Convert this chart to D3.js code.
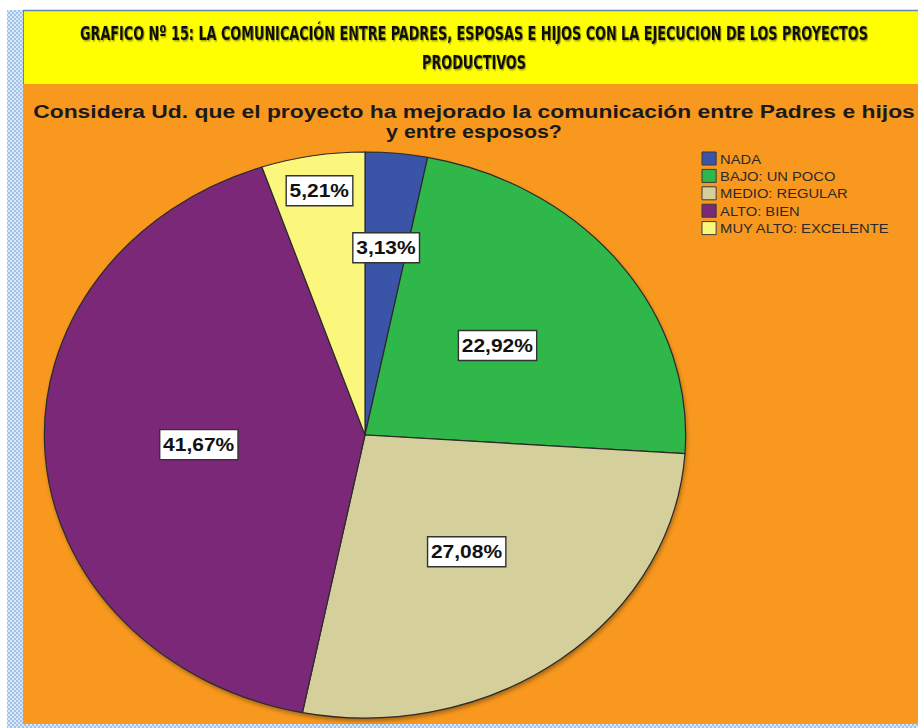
<!DOCTYPE html>
<html>
<head>
<meta charset="utf-8">
<script src="https://cdn.jsdelivr.net/npm/d3@7"></script>
<style>
    body { margin: 0; background: #ffffff; }
    svg { display: block; }
</style>
</head>
<body>
<svg width="918" height="728"></svg>
<script>
// datos del grafico
var categorias = ["NADA", "BAJO: UN POCO", "MEDIO: REGULAR", "ALTO: BIEN", "MUY ALTO: EXCELENTE"];
var porcentajes = [3.13, 22.92, 27.08, 41.67, 5.21];
var colores = ["#3a55a8", "#2fb74a", "#d4cf9b", "#7b2879", "#fbf77d"];
var tituloGrafico = ["GRAFICO Nº 15:  LA COMUNICACIÓN  ENTRE PADRES, ESPOSAS  E HIJOS CON LA EJECUCION DE LOS PROYECTOS", "PRODUCTIVOS"];
var tituloPregunta = ["Considera Ud. que el proyecto ha mejorado la comunicación entre Padres e hijos", "y entre esposos?"];

var svg = d3.select("svg");
var defs = svg.append("defs");

// la imagen original esta estirada en horizontal
var escalaX = 1.133;

// patron cuadriculado del borde
var patron = defs.append("pattern")
    .attr("id", "cuadros")
    .attr("width", 4)
    .attr("height", 4)
    .attr("patternUnits", "userSpaceOnUse");
patron.append("rect").attr("width", 4).attr("height", 4).attr("fill", "#dbe8f7");
patron.append("rect").attr("width", 2).attr("height", 2).attr("fill", "#9fc1ea");
patron.append("rect").attr("x", 2).attr("y", 2).attr("width", 2).attr("height", 2).attr("fill", "#9fc1ea");

var sombra = defs.append("filter")
    .attr("id", "sombra")
    .attr("x", "-10%").attr("y", "-10%")
    .attr("width", "120%").attr("height", "120%");
sombra.append("feGaussianBlur").attr("stdDeviation", 2);

var sombraTexto = defs.append("filter")
    .attr("id", "sombraTexto")
    .attr("x", "-5%").attr("y", "-30%")
    .attr("width", "110%").attr("height", "160%");
sombraTexto.append("feGaussianBlur").attr("in", "SourceAlpha").attr("stdDeviation", 1).attr("result", "b");
sombraTexto.append("feOffset").attr("in", "b").attr("dx", 1).attr("dy", 1).attr("result", "o");
sombraTexto.append("feFlood").attr("flood-color", "#6b6b00").attr("flood-opacity", 0.8);
sombraTexto.append("feComposite").attr("in2", "o").attr("operator", "in").attr("result", "s");
var mezcla = sombraTexto.append("feMerge");
mezcla.append("feMergeNode").attr("in", "s");
mezcla.append("feMergeNode").attr("in", "SourceGraphic");

// fondos
svg.append("rect")
    .attr("x", 7).attr("y", 10)
    .attr("width", 16).attr("height", 718)
    .attr("fill", "url(#cuadros)");
svg.append("rect")
    .attr("x", 23).attr("y", 723)
    .attr("width", 895).attr("height", 5)
    .attr("fill", "url(#cuadros)");
svg.append("rect")
    .attr("x", 23).attr("y", 84)
    .attr("width", 895).attr("height", 640)
    .attr("fill", "#f8981f");
svg.append("rect")
    .attr("x", 23).attr("y", 10)
    .attr("width", 895).attr("height", 74)
    .attr("fill", "#ffff00");
svg.append("line")
    .attr("x1", 23).attr("x2", 918)
    .attr("y1", 10.5).attr("y2", 10.5)
    .attr("stroke", "#5f87b5")
    .attr("stroke-width", 1.5);
svg.append("line")
    .attr("x1", 23.5).attr("x2", 23.5)
    .attr("y1", 10).attr("y2", 84)
    .attr("stroke", "#5f87b5")
    .attr("stroke-width", 1);

// ajusta el ancho de un texto centrado escalando en x
function ajustarAncho(sel, x, anchos) {
    sel.each(function (d, i) {
        var t = d3.select(this);
        var w = this.getComputedTextLength();
        var s = anchos[i] / w;
        t.attr("transform", "translate(" + x + "," + t.attr("y") + ") scale(" + s + ",1)")
            .attr("y", 0);
    });
}

// titulo del banner
var banner = svg.append("g")
    .selectAll("text")
    .data(tituloGrafico)
    .enter()
    .append("text")
    .attr("x", 0)
    .attr("y", function (d, i) {
        return 40 + i * 29;
    })
    .attr("text-anchor", "middle")
    .attr("font-family", "'Liberation Sans Narrow', 'DejaVu Sans Condensed', sans-serif")
    .attr("font-weight", "bold")
    .attr("font-size", 20)
    .attr("fill", "#111")
    .attr("filter", "url(#sombraTexto)")
    .text(function (d) {
        return d;
    });
ajustarAncho(banner, 474, [788, 104]);

// titulo de la pregunta
var pregunta = svg.append("g")
    .selectAll("text")
    .data(tituloPregunta)
    .enter()
    .append("text")
    .attr("x", 0)
    .attr("y", function (d, i) {
        return 118 + i * 20;
    })
    .attr("text-anchor", "middle")
    .attr("font-family", "'Liberation Sans', Arial, sans-serif")
    .attr("font-weight", "bold")
    .attr("font-size", 19)
    .attr("fill", "#1a1a1a")
    .text(function (d) {
        return d;
    });
ajustarAncho(pregunta, 474, [882, 176]);

// pastel
var radio = 283;
var cx = 365, cy = 435;

var pie = d3.pie()
    .sort(null)
    .value(function (d) {
        return d;
    });
var arcos = pie(porcentajes);

var arc = d3.arc()
    .innerRadius(0)
    .outerRadius(radio);

var pieGroup = svg.append("g")
    .attr("transform", "translate(" + cx + "," + cy + ") scale(" + escalaX + ",1)");

pieGroup.append("ellipse")
    .attr("cx", 1)
    .attr("cy", 3)
    .attr("rx", radio)
    .attr("ry", radio)
    .attr("fill", "#5a3a10")
    .attr("opacity", 0.55)
    .attr("filter", "url(#sombra)");

pieGroup.selectAll("path")
    .data(arcos)
    .enter()
    .append("path")
    .attr("d", arc)
    .attr("fill", function (d, i) {
        return colores[i];
    })
    .attr("stroke", "#2b2b2b")
    .attr("stroke-width", 1.2)
    .attr("vector-effect", "non-scaling-stroke");

// etiquetas con recuadro
function radioEtiqueta(v) {
    if (v < 4) return 0.665;
    if (v < 6) return 0.875;
    return 0.52;
}

var etiquetas = svg.append("g")
    .selectAll("g")
    .data(arcos)
    .enter()
    .append("g")
    .attr("transform", function (d) {
        var a = (d.startAngle + d.endAngle) / 2;
        var r = radio * radioEtiqueta(d.value);
        var x = cx + Math.sin(a) * r * escalaX;
        var y = cy - Math.cos(a) * r;
        return "translate(" + x + "," + y + ") scale(" + escalaX + ",1)";
    });

etiquetas.append("text")
    .attr("text-anchor", "middle")
    .attr("dy", ".36em")
    .attr("font-family", "'Liberation Sans', Arial, sans-serif")
    .attr("font-weight", "bold")
    .attr("font-size", 18.5)
    .attr("fill", "#111")
    .text(function (d) {
        return d.value.toFixed(2).replace(".", ",") + "%";
    });

etiquetas.each(function () {
    var g = d3.select(this);
    var bb = g.select("text").node().getBBox();
    g.insert("rect", "text")
        .attr("x", bb.x - 3)
        .attr("y", -15)
        .attr("width", bb.width + 6)
        .attr("height", 30)
        .attr("fill", "#ffffff")
        .attr("stroke", "#333")
        .attr("stroke-width", 1.4)
        .attr("vector-effect", "non-scaling-stroke");
});

// leyenda
var leyenda = svg.append("g")
    .attr("transform", "translate(702,152) scale(" + escalaX + ",1)");

var filas = leyenda.selectAll("g")
    .data(categorias)
    .enter()
    .append("g")
    .attr("transform", function (d, i) {
        return "translate(0," + (i * 17.4) + ")";
    });

filas.append("rect")
    .attr("width", 12.5)
    .attr("height", 13)
    .attr("fill", function (d, i) {
        return colores[i];
    })
    .attr("stroke", "#3a3a3a")
    .attr("stroke-width", 1)
    .attr("vector-effect", "non-scaling-stroke");

filas.append("text")
    .attr("x", 16)
    .attr("y", 7)
    .attr("dy", ".36em")
    .attr("font-family", "'Liberation Sans', Arial, sans-serif")
    .attr("font-size", 13)
    .attr("fill", "#2a2a2a")
    .text(function (d) {
        return d;
    });
</script>
</body>
</html>
